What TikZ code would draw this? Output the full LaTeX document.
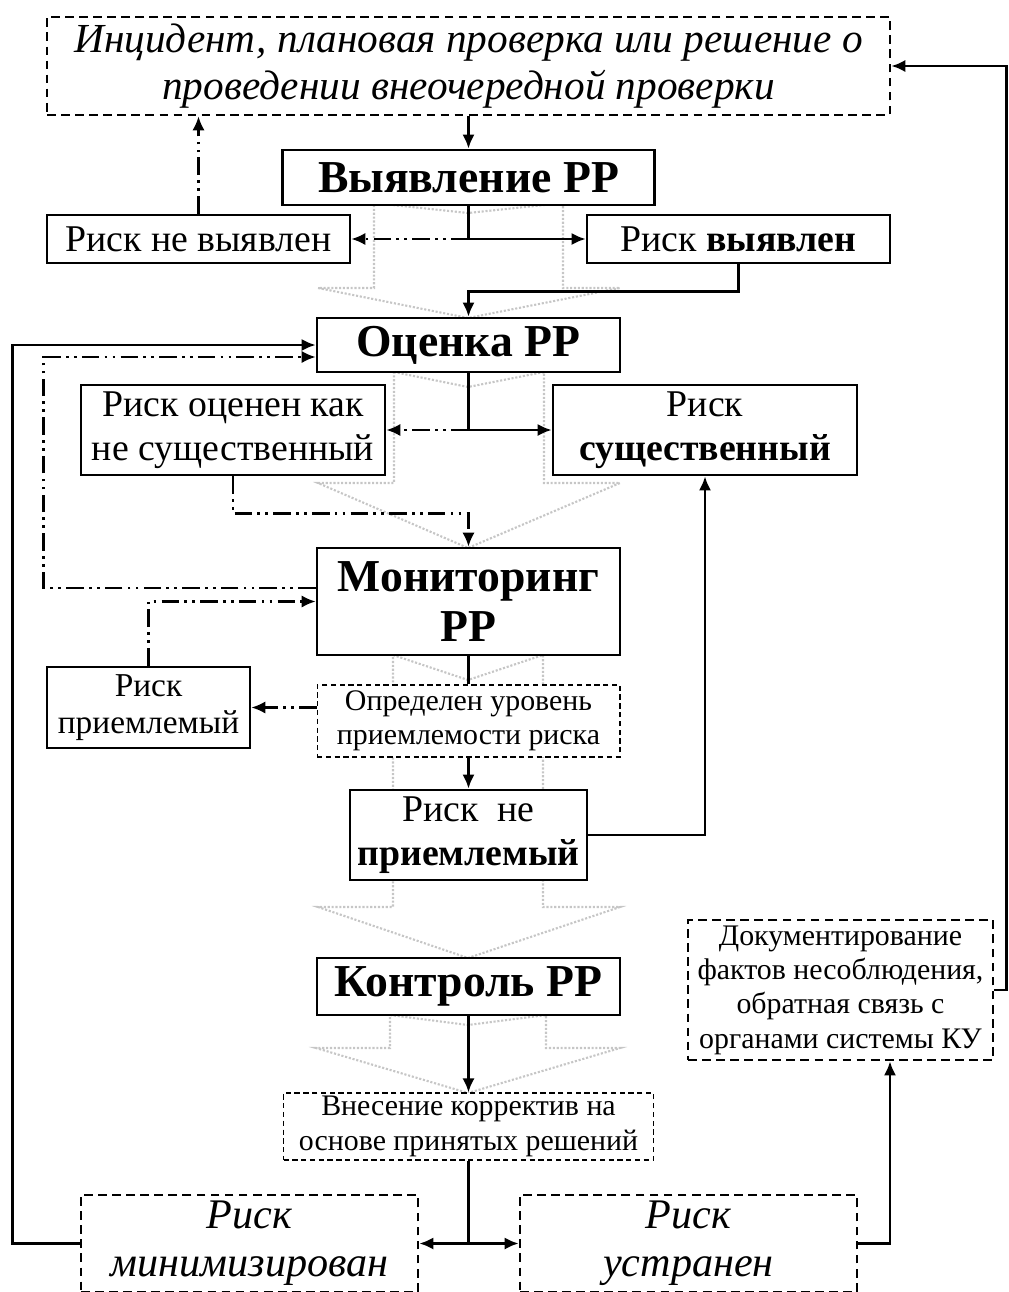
\documentclass[tikz,border=0pt]{standalone}
\usepackage{fontspec}
\setmainfont{Liberation Serif}
\usetikzlibrary{arrows.meta, positioning}

\begin{document}
\begin{tikzpicture}[x=0.02cm, y=-0.02cm,
        box/.style = {draw, fill=white, line width=1.5pt, inner sep=0pt, align=center},
        dbox/.style = {box, dash pattern=on 5pt off 3pt},
        tbox/.style = {box, line width=0.6pt, dash pattern=on 3pt off 2pt},
        headfont/.style = {font=\fontsize{26}{28.5}\selectfont\bfseries},
        medfont/.style = {font=\fontsize{21.5}{25}\selectfont},
        smallfont/.style = {font=\fontsize{17}{19.5}\selectfont},
        conn/.style = {line width=1.6pt, -{Latex[length=8pt,width=7pt]}},
        dd/.style = {line width=1.4pt, dash pattern=on 10pt off 3pt on 1.5pt off 3pt on 1.5pt off 3pt,
            -{Latex[length=8pt,width=7pt]}},
        garrow/.style = {gray!45, line width=1.2pt, densely dotted}
    ]
    \useasboundingbox (0,0) rectangle (1008,1292);

    % gray block arrows in the background
    \draw[garrow] (374,203) -- (468,213) -- (563,203) -- (563,288) -- (620,288) -- (468,318) -- (318,288) -- (374,288) -- cycle;
    \draw[garrow] (394,372) -- (468,387) -- (544,372) -- (544,483) -- (620,483) -- (468,548) -- (318,483) -- (394,483) -- cycle;
    \draw[garrow] (393,655) -- (468,680) -- (543,655) -- (543,907) -- (620,907) -- (468,958) -- (318,907) -- (393,907) -- cycle;
    \draw[garrow] (390,1015) -- (468,1025) -- (546,1015) -- (546,1048) -- (620,1048) -- (468,1093) -- (316,1048) -- (390,1048) -- cycle;

    \node[dbox, minimum width=16.86cm, minimum height=1.96cm, font=\fontsize{23.5}{26.5}\selectfont\itshape] (incident) at (468.5,66)
        {Инцидент, плановая проверка или решение о\\проведении внеочередной проверки};
    \node[box, headfont, minimum width=7.44cm, minimum height=1.10cm] (vyyav) at (468.5,177.5) {Выявление РР};
    \node[box, medfont, minimum width=6.06cm, minimum height=0.96cm] (nevyyav) at (198.5,239) {Риск не выявлен};
    \node[box, medfont, minimum width=6.06cm, minimum height=0.96cm] (vyyavlen) at (738.5,239) {Риск \textbf{выявлен}};
    \node[box, headfont, minimum width=6.06cm, minimum height=1.08cm] (ocenka) at (468.5,345) {Оценка РР};
    \node[box, medfont, minimum width=6.08cm, minimum height=1.80cm] (nesush) at (233,430) {Риск оценен как\\не существенный};
    \node[box, medfont, minimum width=6.08cm, minimum height=1.80cm] (sush) at (705,430) {Риск\\\textbf{существенный}};
    \node[box, headfont, minimum width=6.06cm, minimum height=2.14cm] (monit) at (468.5,601.5) {Мониторинг\\РР};
    \node[box, font=\fontsize{19}{21}\selectfont, minimum width=4.06cm, minimum height=1.62cm] (priem) at (148.5,707.5) {Риск\\приемлемый};
    \node[tbox, smallfont, minimum width=6.06cm, minimum height=1.44cm] (opred) at (468.5,721) {Определен уровень\\приемлемости риска};
    \node[box, medfont, minimum width=4.74cm, minimum height=1.80cm] (nepriem) at (468.5,835) {Риск\ \ не\\\textbf{приемлемый}};
    \node[box, headfont, minimum width=6.06cm, minimum height=1.14cm] (kontrol) at (468.5,986.5) {Контроль РР};
    \node[dbox, smallfont, minimum width=6.10cm, minimum height=2.80cm] (dokum) at (840.5,990)
        {Документирование\\фактов несоблюдения,\\обратная связь с\\органами системы КУ};
    \node[tbox, smallfont, minimum width=7.40cm, minimum height=1.34cm] (vnes) at (468.5,1126.5) {Внесение корректив на\\основе принятых решений};
    \node[dbox, font=\fontsize{24}{27.5}\selectfont\itshape, minimum width=6.74cm, minimum height=1.94cm] (minim) at (249.5,1243.5) {Риск\\минимизирован};
    \node[dbox, font=\fontsize{24}{27.5}\selectfont\itshape, minimum width=6.74cm, minimum height=1.94cm] (ustr) at (688.5,1243.5) {Риск\\устранен};

    % connectors
    \draw[conn] (incident.south) -- (vyyav.north);
    \draw[conn] (vyyav.south) |- (vyyavlen.west);
    \draw[dd] (vyyav.south |- nevyyav.east) -- (nevyyav.east);
    \draw[dd] (nevyyav.north) -- (nevyyav.north |- incident.south);
    \draw[conn] (vyyavlen.south) -- ++(0,27) -| (ocenka.north);
    \draw[conn] (ocenka.south) |- (sush.west);
    \draw[dd] (ocenka.south |- nesush.east) -- (nesush.east);
    \draw[dd] (nesush.south) -- ++(0,37) -| (monit.north);
    \draw[conn] (nepriem.east) -| (sush.south);
    \draw[dd] ([yshift=0.27cm]monit.west) -- ++(-272,0) |- ([yshift=-0.24cm]ocenka.west);
    \draw[dd] (priem.north) |- (monit.west);
    \draw[line width=1.6pt] (monit.south) -- (opred.north);
    \draw[dd] (opred.west |- priem.east) -- (priem.east);
    \draw[conn] (opred.south) -- (nepriem.north);
    \draw[conn] (kontrol.south) -- (vnes.north);
    \draw[line width=1.6pt] (vnes.south) -- (vnes.south |- minim.east) coordinate (split);
    \draw[conn] (split) -- (minim.east);
    \draw[conn] (split) -- (ustr.west);
    \draw[conn] (minim.west) -- ++(-67,0) |- (ocenka.west);
    \draw[conn] (ustr.east) -| ([xshift=0.99cm]dokum.south);
    \draw[conn] (dokum.east) -- ++(12,0) |- (incident.east);
\end{tikzpicture}
\end{document}
